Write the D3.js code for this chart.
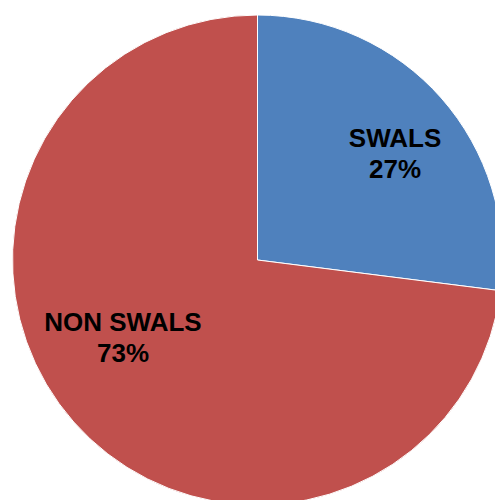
<!DOCTYPE html>
<html>
<head>
<meta charset="utf-8">
<script src="https://cdnjs.cloudflare.com/ajax/libs/d3/7.8.5/d3.min.js"></script>
<style>
  html, body { margin: 0; padding: 0; background: #fff; }
  svg { display: block; }
</style>
</head>
<body>
<div id="chart"></div>
<script>
// data
var categories = ["SWALS", "NON SWALS"];
var shares = [27, 73];
var pctLabels = ["27%", "73%"];
var colors = ["#4F81BD", "#C0504D"];

var width = 495, height = 500;
var cx = 257.5, cy = 260, radius = 245;

// Excel puts labels a bit off the centroid, nudge them
var labelNudge = [[10, -1], [-7, -41]];

var svg = d3.select("#chart")
  .append("svg")
  .attr("width", width)
  .attr("height", height);

var g = svg.append("g")
  .attr("transform", "translate(" + cx + "," + cy + ")");

var pie = d3.pie()
  .sort(null)
  .value(function(d) { return d; });

var arcs = pie(shares);

var arc = d3.arc()
  .innerRadius(0)
  .outerRadius(radius);

var labelArc = d3.arc()
  .innerRadius(170)
  .outerRadius(170);

g.selectAll("path.slice")
  .data(arcs)
  .enter()
  .append("path")
    .attr("class", "slice")
    .attr("d", arc)
    .style("fill", function(d, i) { return colors[i]; })
    .style("stroke", "#fff")
    .style("stroke-width", 1);

var labels = g.selectAll("text.lbl")
  .data(arcs)
  .enter()
  .append("text")
    .attr("class", "lbl")
    .attr("text-anchor", "middle")
    .attr("font-family", "Liberation Sans, Arial, sans-serif")
    .attr("font-weight", "bold")
    .attr("font-size", "26px")
    .attr("fill", "#000")
    .attr("transform", function(d, i) {
      var c = labelArc.centroid(d);
      return "translate(" + (c[0] + labelNudge[i][0]) + "," + (c[1] + labelNudge[i][1]) + ")";
    });

labels.append("tspan")
  .attr("x", 0)
  .attr("y", 0)
  .text(function(d, i) { return categories[i]; });

labels.append("tspan")
  .attr("x", 0)
  .attr("y", 31)
  .text(function(d, i) { return pctLabels[i]; });
</script>
</body>
</html>
